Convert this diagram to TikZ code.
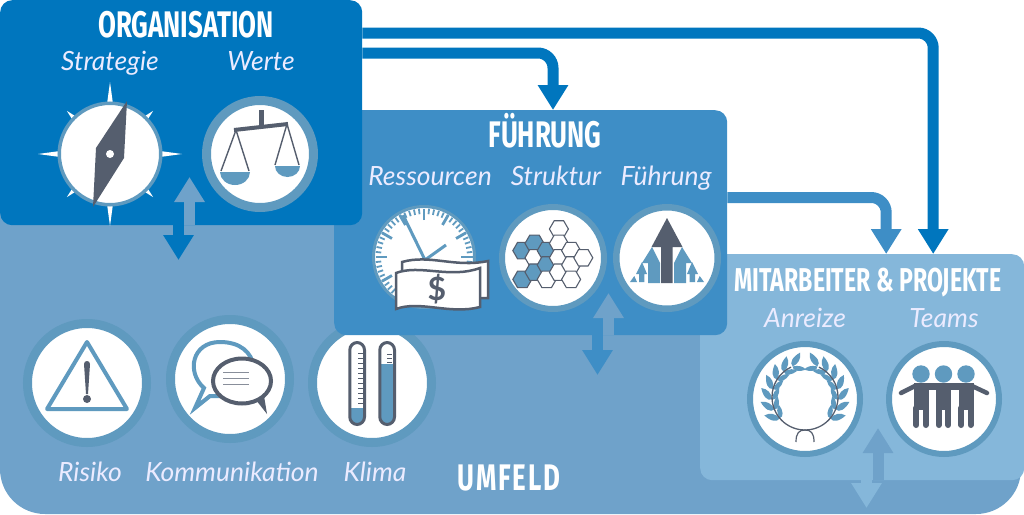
\documentclass[tikz,border=0pt]{standalone}
\usepackage{fontspec}
\setmainfont{Lato}
\newfontfamily\headfont[FakeStretch=0.7]{Fira Sans}
\usetikzlibrary{positioning, arrows.meta, shapes.geometric, calc}
\definecolor{orgblue}{HTML}{0076BE}
\definecolor{fuehrblue}{HTML}{3E8EC6}
\definecolor{mitblue}{HTML}{85B7DA}
\definecolor{umfblue}{HTML}{6FA2CA}
\definecolor{ringblue}{HTML}{5F9ABF}
\definecolor{slate}{HTML}{555E6E}
\tikzset{>={Triangle[width=29pt,length=25pt]}}

\begin{document}
\begin{tikzpicture}[
    x=1pt, y=-1pt,
    box/.style={anchor=north west, rectangle, rounded corners=12pt, inner sep=0pt, text width=0pt},
    head/.style={anchor=base, text=white, font=\headfont\bfseries\fontsize{37}{37}\selectfont, inner sep=0pt},
    lbl/.style={anchor=base, text=white!92!blue, font=\itshape\fontsize{26.5}{26.5}\selectfont, inner sep=0pt},
    ring/.style 2 args={circle, fill=white, draw=ringblue, inner sep=0pt,
                        minimum size={(#1+#2)*1pt}, line width={(#1-#2)*1pt}},
    flow/.style={->, line width=11pt, rounded corners=15pt},
    hexw/.style={regular polygon, regular polygon sides=6, draw=slate,
                 line width=1.1pt, fill=white, minimum size=19pt, inner sep=0pt},
    hexb/.style={hexw, fill=ringblue},
    tick/.style={draw=ringblue, line width=1.8pt},
    leaf/.style={fill=ringblue},
  ]
  \useasboundingbox (0,0) rectangle (1024,514);

  % background
  \fill[umfblue] (0,200) [rounded corners=45pt] -- (0,514) -- (1021,514) [sharp corners]
    -- (1021,300) -- (400,300) -- (400,200) -- cycle;
  \node[box, fill=mitblue, minimum width=324pt, minimum height=226pt] (mit) at (700,254) {};

  % umfeld
  \node[ring={64}{55}] (risiko) at (87,383) {};
  \node[ring={64}{55}] (komm) at (230,379) {};
  \node[ring={64}{55}] (klima) at (372,383) {};
  \draw[ringblue, line width=4pt, line join=round, fill=none] (87,342) -- (47,409) -- (127,409) -- cycle;
  \fill[slate] (84,364) .. controls (84,360) and (90,360) .. (90,364) -- (88,394) -- (86,394) -- cycle;
  \fill[slate] (87,399) circle (4);
  \draw[ringblue, line width=4pt, fill=white] (204,388) .. controls (186,372) and (192,342) .. (220,342)
    .. controls (240,342) and (252,352) .. (254,368) -- (230,396) -- (210,396) -- (195,408) -- cycle;
  \draw[slate, line width=4pt, fill=white] (242,381) ellipse (29 and 22.5);
  \fill[slate] (256,400) -- (267,414) -- (264,396) -- cycle;
  \foreach \y in {372,378,384}
    \draw[slate!70, line width=1pt] (223,\y) -- (249,\y);
  \fill[ringblue] (350,408) [rounded corners=7pt] -- (350,425) -- (364,425) [sharp corners] -- (364,408) -- cycle;
  \draw[slate, line width=3pt, rounded corners=7.5pt] (349.8,342.5) rectangle (364.5,424.5);
  \foreach \y in {353,358,...,403}
    \draw[slate, line width=.9pt] (358,\y) -- (363,\y);
  \fill[ringblue] (380,364) -- (380,417) [rounded corners=7pt] -- (380,425) -- (394,425) [sharp corners] -- (394,364) -- cycle;
  \draw[slate, line width=3pt, rounded corners=7.5pt] (379.8,342.5) rectangle (394.5,424.5);
  \foreach \y in {354,358,362}
    \draw[slate, line width=.9pt] (387,\y) -- (392,\y);
  \node[lbl] (risikolbl) at (90,481) {Risiko};
  \node[lbl] (kommlbl) at (232,481) {Kommunikation};
  \node[lbl] (klimalbl) at (375,481) {Klima};
  \node[head] (umfeld) at (509,490) {\addfontfeature{LetterSpace=5}UMFELD};

  % mitarbeiter & projekte
  \node[head, font=\headfont\bfseries\fontsize{33}{33}\selectfont] (mittitle) at (868,291) {MITARBEITER \& PROJEKTE};
  \node[lbl] (anreizelbl) at (805,327) {Anreize};
  \node[lbl] (teamslbl) at (944,327) {Teams};
  \node[ring={58}{52}] (anreize) at (805,399) {};
  \node[ring={58}{52}] (teams) at (944,399) {};
  \begin{scope}[shift={(805,397)}]
    \foreach \s in {1,-1} {
      \begin{scope}[xscale=\s]
        \foreach \a in {112,130,...,220} {
          \fill[leaf, rotate=\a] (33,0) .. controls (38,-2) and (42,4) .. (43,12) .. controls (37,11) and (33,6) .. (33,0) -- cycle;
          \fill[leaf, rotate=\a] (33,0) .. controls (29,-2) and (25,4) .. (25,11) .. controls (29,10) and (32,6) .. (33,0) -- cycle;
        }
        \draw[slate, line width=1.3pt] (90:33) arc[start angle=90, end angle=245, radius=33];
        \draw[slate, line width=1.2pt] (-9,45) .. controls (-9,36) and (-6,33) .. (0,33);
      \end{scope}
    }
  \end{scope}
  \foreach \c in {921,943.5,966} {
    \fill[ringblue] (\c,374) circle (8.7);
    \fill[slate] ($(\c,383)+(-7.5,0)$) rectangle ($(\c,410)+(7.5,0)$);
    \draw[slate, line width=6pt, line cap=round] ($(\c,408)+(-4.7,0)$) -- ($(\c,425)+(-4.7,0)$);
    \draw[slate, line width=6pt, line cap=round] ($(\c,408)+(4.7,0)$) -- ($(\c,425)+(4.7,0)$);
  }
  \fill[slate] (914,383) rectangle (973,390);
  \draw[slate, line width=4.5pt, line cap=round] (915,386) -- (901,393);
  \draw[slate, line width=4.5pt, line cap=round] (972,386) -- (987,393);

  % fuehrung
  \node[box, fill=fuehrblue, minimum width=393pt, minimum height=225pt] (fuehr) at (334,110) {};
  \node[head] (fuehrtitle) at (545,147) {FÜHRUNG};
  \node[lbl] (ressourcenlbl) at (430,185) {Ressourcen};
  \node[lbl] (strukturlbl) at (556,185) {Struktur};
  \node[lbl] (fuehrunglbl) at (666,185) {Führung};
  \node[ring={52}{49}] (ressourcen) at (424,257) {};
  \node[ring={54}{48}] (struktur) at (553,258) {};
  \node[ring={54}{47.5}] (fuehrung) at (667,258) {};
  \foreach \a in {0,6,...,354}
    \draw[tick] ($(424,257)+(\a:43)$) -- ($(424,257)+(\a:48.5)$);
  \foreach \a in {0,30,...,330}
    \draw[tick, line width=2.8pt] ($(424,257)+(\a:37)$) -- ($(424,257)+(\a:48.5)$);
  \draw[ringblue, line width=3pt] (403,215) -- (425,260) -- (446,245);
  \draw[slate, line width=2.5pt, fill=white] (402,262) .. controls (430,254) and (455,268) .. (488,261) -- (488,298) -- (402,298) -- cycle;
  \draw[slate, line width=2.5pt, fill=white] (396,273) .. controls (420,264) and (450,279) .. (480,268)
    -- (480,307) .. controls (450,315) and (420,300) .. (396,309) -- cycle;
  \node[text=slate, font=\bfseries\fontsize{32}{32}\selectfont, inner sep=0pt] (dollar) at (437,289) {\$};
  \foreach \c/\r/\k in {0/3/hexb,0/7/hexb,1/2/hexb,1/4/hexw,1/6/hexb,2/3/hexb,2/5/hexb,2/7/hexw,
                        3/0/hexw,3/2/hexw,3/4/hexw,3/6/hexw,4/3/hexw,4/5/hexw,4/7/hexw,5/4/hexw}
    \node[\k] (hex\c\r) at ({522.3+12.2*\c},{229+7.2*\r}) {};
  \foreach \s in {1,-1} {
    \begin{scope}[shift={(667,0)}, xscale=\s]
      \fill[ringblue] (-37,282) -- (-32.7,276) -- (-30,282) -- cycle;
      \fill[ringblue] (-25,262) -- (-31,274) -- (-28,274) -- (-28,282) -- (-22.7,282) -- (-22.7,274) -- (-20,274) -- cycle;
      \fill[ringblue] (-15,247) -- (-25,263) -- (-19,263) -- (-19,283) -- (-7,283) -- (-7,263) -- cycle;
    \end{scope}
  }
  \fill[slate] (667,218) -- (651.5,247) -- (661,247) -- (661,283) -- (672.5,283) -- (672.5,247) -- (682.5,247) -- cycle;

  % organisation
  \node[box, fill=orgblue, minimum width=362pt, minimum height=225pt] (org) at (0,0) {};
  \node[head] (orgtitle) at (186,37) {ORGANISATION};
  \node[lbl] (strategielbl) at (110,70) {Strategie};
  \node[lbl] (wertelbl) at (261,70) {Werte};
  \foreach \a in {0,90,180,270}
    \fill[white, rotate around={\a:(110,154)}] (107,104) -- (110,82) -- (113,104) -- cycle;
  \foreach \a in {45,135,225,315}
    \fill[white, rotate around={\a:(110,154)}] (107.5,104) -- (110,93) -- (112.5,104) -- cycle;
  \node[ring={52.5}{49}] (strategie) at (110,154) {};
  \node[ring={58}{49}] (werte) at (260,154) {};
  \fill[slate] (127,101) -- (124,158) -- (93,207) -- (96,148) -- cycle;
  \fill[white] (110,154) circle (4);
  \draw[slate, line width=5pt] (261,110) -- (261,126);
  \draw[slate, line width=4pt] (234,130) -- (288,124);
  \draw[slate, line width=1.4pt] (221,171) -- (236,130) -- (249,171);
  \draw[slate, line width=1.4pt] (275,165) -- (287,124) -- (299,165);
  \fill[ringblue] (220,172) arc[start angle=180, end angle=360, x radius=15, y radius=-13] -- cycle;
  \fill[ringblue] (275,166) arc[start angle=180, end angle=360, x radius=12.5, y radius=-11] -- cycle;

  % connectors
  \coordinate (orgtip) at (189.5,177);
  \coordinate (orgdown) at (178.5,260);
  \coordinate (fuehrtip) at (608.5,293);
  \coordinate (fuehrdown) at (597.5,375);
  \coordinate (mittip) at (878,428);
  \coordinate (mitdown) at (866.5,508);
  \draw[flow, orgblue] (org.east |- 0,33) -| ([xshift=71pt]mit.north);
  \draw[flow, orgblue] (org.east |- 0,53) -| (553,110);
  \draw[flow, fuehrblue] (fuehr.east |- 0,197.5) -| ([xshift=24pt]mit.north);
  \draw[->, line width=11pt, umfblue] (orgtip |- org.south) -- (orgtip);
  \draw[->, line width=11pt, orgblue] (orgdown |- org.south) -- (orgdown);
  \draw[->, line width=11pt, umfblue] (fuehrtip |- fuehr.south) -- (fuehrtip);
  \draw[->, line width=11pt, fuehrblue] (fuehrdown |- fuehr.south) -- (fuehrdown);
  \draw[->, line width=11pt, umfblue] (mittip |- mit.south) -- (mittip);
  \draw[->, line width=11pt, mitblue] (mitdown |- mit.south) -- (mitdown);
\end{tikzpicture}
\end{document}
